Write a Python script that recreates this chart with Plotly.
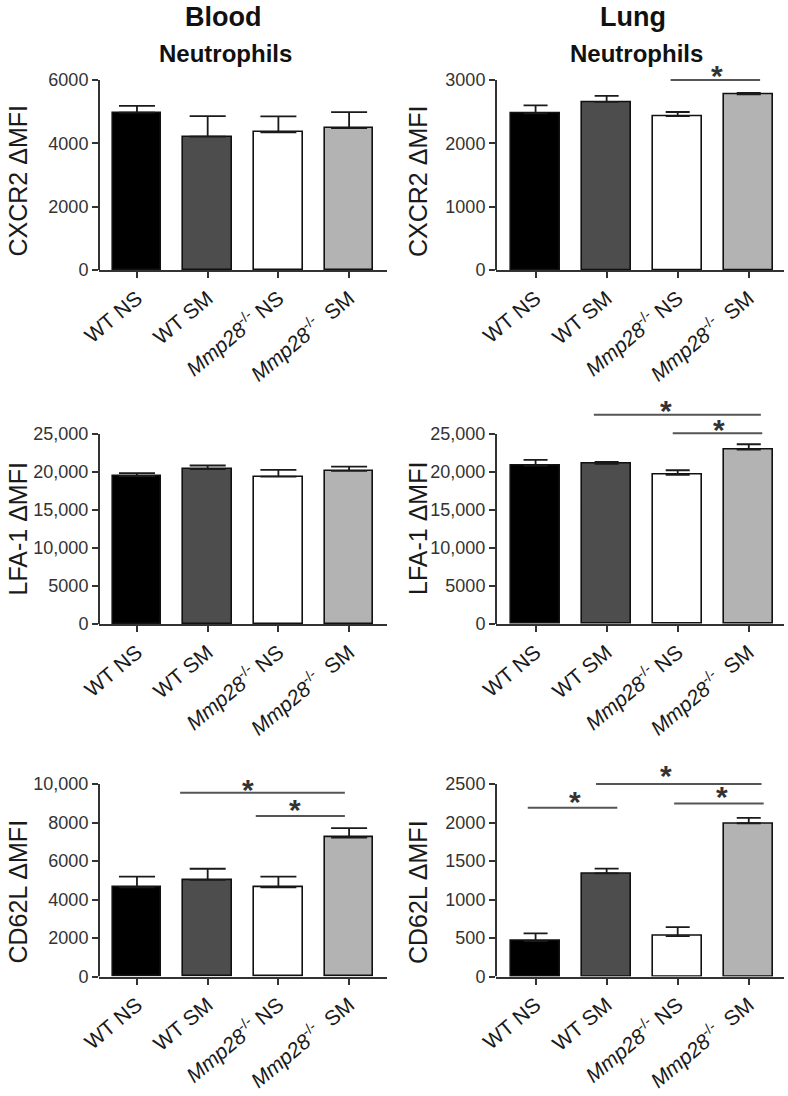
import plotly.graph_objects as go

# ---------------- data ----------------
groups = ["WT NS", "WT SM",
          "<i>Mmp28</i><sup>-/-</sup> NS",
          "<i>Mmp28</i><sup>-/-</sup>\u00a0\u00a0SM"]
group_pos = [0, 1, 2, 3]
bar_colors = ["#000000", "#4d4d4d", "#ffffff", "#b3b3b3"]

cxcr2_blood = [4970, 4210, 4350, 4480]
cxcr2_blood_err = [210, 650, 500, 505]
cxcr2_lung = [2475, 2655, 2430, 2775]
cxcr2_lung_err = [125, 95, 65, 20]

lfa1_blood = [19450, 20370, 19400, 20150]
lfa1_blood_err = [400, 485, 880, 570]
lfa1_lung = [20850, 21070, 19620, 22950]
lfa1_lung_err = [740, 260, 610, 700]

cd62l_blood = [4630, 5020, 4630, 7220]
cd62l_blood_err = [560, 577, 560, 490]
cd62l_lung = [460, 1340, 525, 1990]
cd62l_lung_err = [100, 60, 116, 70]

cxcr2_blood_ticks = [0, 2000, 4000, 6000]
cxcr2_lung_ticks = [0, 1000, 2000, 3000]
lfa1_ticks = [0, 5000, 10000, 15000, 20000, 25000]
lfa1_ticktext = ["0", "5000", "10,000", "15,000", "20,000", "25,000"]
cd62l_blood_ticks = [0, 2000, 4000, 6000, 8000, 10000]
cd62l_blood_ticktext = ["0", "2000", "4000", "6000", "8000", "10,000"]
cd62l_lung_ticks = [0, 500, 1000, 1500, 2000, 2500]

# significance brackets: (x start, x end, line level, asterisk x, asterisk level)
sig_cxcr2_lung = [(1.90, 3.16, 3000, 2.55, 3142)]
sig_lfa1_lung = [(0.82, 3.17, 27526, 1.83, 28665),
                 (1.93, 3.19, 25100, 2.58, 26086)]
sig_cd62l_blood = [(0.61, 2.94, 9545, 1.57, 9948),
                   (1.68, 2.94, 8340, 2.23, 8899)]
sig_cd62l_lung = [(-0.11, 1.15, 2191, 0.56, 2323),
                  (0.85, 3.18, 2500, 1.83, 2658),
                  (1.95, 3.21, 2246, 2.62, 2388)]

# ---------------- layout helpers ----------------
W, H = 788, 1096
FONT = "Arial, 'Liberation Sans', Helvetica, sans-serif"
AX = "#333333"


def fx(px):   # page pixel -> paper x
    return px / W


def fy(py):   # page pixel -> paper y
    return 1 - py / H


# column geometry in page pixels (left edge, right edge, x range)
cols = [
    dict(x0=99, x1=387, rng=[-0.537, 3.536], cap=18),
    dict(x0=496, x1=784, rng=[-0.557, 3.496], cap=12),
]
# rows: (zero pixel, top-tick pixel)
rows = [(270, 80), (624, 434), (976.5, 784)]

panels = [
    # row, col, values, errors, tickvals, ticktext, ytitle, range max, sigs
    (0, 0, cxcr2_blood, cxcr2_blood_err, cxcr2_blood_ticks, None, "CXCR2 \u0394MFI", 6000, []),
    (0, 1, cxcr2_lung, cxcr2_lung_err, cxcr2_lung_ticks, None, "CXCR2 \u0394MFI", 3200, sig_cxcr2_lung),
    (1, 0, lfa1_blood, lfa1_blood_err, lfa1_ticks, lfa1_ticktext, "LFA-1 \u0394MFI", 25000, []),
    (1, 1, lfa1_lung, lfa1_lung_err, lfa1_ticks, lfa1_ticktext, "LFA-1 \u0394MFI", 29000, sig_lfa1_lung),
    (2, 0, cd62l_blood, cd62l_blood_err, cd62l_blood_ticks, cd62l_blood_ticktext, "CD62L \u0394MFI", 10200, sig_cd62l_blood),
    (2, 1, cd62l_lung, cd62l_lung_err, cd62l_lung_ticks, None, "CD62L \u0394MFI", 2750, sig_cd62l_lung),
]

ytitle_pos = {  # (x px, y px) centres of rotated axis titles
    (0, 0): (17.5, 181), (0, 1): (418, 182),
    (1, 0): (17.5, 529), (1, 1): (418, 529),
    (2, 0): (17.5, 892), (2, 1): (418, 892),
}

fig = go.Figure()
layout = dict(
    template="none",
    width=W, height=H,
    margin=dict(l=0, r=0, t=0, b=0, pad=0, autoexpand=False),
    paper_bgcolor="white", plot_bgcolor="white",
    showlegend=False, bargap=0,
    font=dict(family=FONT, color="#222222"),
)
shapes = []
annotations = []

for k, (r, c, vals, errs, tv, tt, ytitle, ymax, sigs) in enumerate(panels):
    idx = k + 1
    xa = "x" if idx == 1 else f"x{idx}"
    ya = "y" if idx == 1 else f"y{idx}"
    col = cols[c]
    zero_px, top_px = rows[r]
    top_tick = tv[-1]
    px_per = (zero_px - top_px) / top_tick
    dom_top_px = zero_px - ymax * px_per
    ydom = [fy(zero_px), fy(dom_top_px)]
    xdom = [fx(col["x0"]), fx(col["x1"])]

    fig.add_trace(go.Bar(
        x=group_pos, y=vals, width=0.69,
        marker=dict(color=bar_colors, line=dict(color="#111111", width=1.6)),
        error_y=dict(type="data", array=errs, arrayminus=[0] * len(errs),
                     symmetric=False, color="#1a1a1a", thickness=1.8,
                     width=col["cap"]),
        xaxis=xa, yaxis=ya, hoverinfo="skip",
    ))

    layout[f"xaxis{idx if idx > 1 else ''}"] = dict(
        domain=xdom, anchor=ya, range=col["rng"], automargin=False,
        tickmode="array", tickvals=group_pos, ticktext=groups,
        tickangle=-40, ticks="outside", ticklen=6, tickwidth=2, tickcolor=AX,
        showline=True, linewidth=2, linecolor=AX,
        showgrid=False, zeroline=False,
        tickfont=dict(size=21, color="#1a1a1a", family=FONT),
        fixedrange=True,
    )
    layout[f"yaxis{idx if idx > 1 else ''}"] = dict(
        domain=ydom, anchor=xa, range=[0, ymax], automargin=False,
        tickmode="array", tickvals=tv, ticktext=tt if tt else [str(v) for v in tv],
        ticks="outside", ticklen=6, tickwidth=2, tickcolor=AX,
        showline=False, showgrid=False, zeroline=False,
        tickfont=dict(size=18, color="#333333", family=FONT),
        fixedrange=True,
    )
    # y-axis spine only up to the top tick
    shapes.append(dict(type="line", xref=f"{xa} domain", yref=ya,
                       x0=0, x1=0, y0=0, y1=top_tick,
                       line=dict(color=AX, width=2)))
    # significance brackets
    for (sx0, sx1, sy, ax_, ay) in sigs:
        shapes.append(dict(type="line", xref=xa, yref=ya,
                           x0=sx0, x1=sx1, y0=sy, y1=sy,
                           line=dict(color="#555555", width=2)))
        annotations.append(dict(x=ax_, y=ay, xref=xa, yref=ya, text="<b>*</b>",
                                showarrow=False, xanchor="center", yanchor="middle",
                                yshift=-4,
                                font=dict(size=30, color="#333333", family=FONT)))
    # y-axis title
    tx, ty = ytitle_pos[(r, c)]
    annotations.append(dict(x=fx(tx), y=fy(ty), xref="paper", yref="paper",
                            text=ytitle, showarrow=False, textangle=-90,
                            xanchor="center", yanchor="middle",
                            font=dict(size=25, color="#1a1a1a", family=FONT)))

# column titles (row titles at the very top are anchored to the top edge)
for txt, x_px, y_px, size, anchor in [("<b>Blood</b>", 223, 0, 27, "top"),
                                      ("<b>Neutrophils</b>", 225, 53, 24, "middle"),
                                      ("<b>Lung</b>", 633, 0, 27, "top"),
                                      ("<b>Neutrophils</b>", 636, 53, 24, "middle")]:
    annotations.append(dict(x=fx(x_px), y=fy(y_px), xref="paper", yref="paper",
                            text=txt, showarrow=False, xanchor="center", yanchor=anchor,
                            font=dict(size=size, color="#111111", family=FONT)))

layout["shapes"] = shapes
layout["annotations"] = annotations
fig.update_layout(**layout)

# the page itself has no margin, so the 788x1096 figure fills the window
fig.write_html("out.html", config={"displayModeBar": False},
               post_script="document.body.style.margin='0px';")
